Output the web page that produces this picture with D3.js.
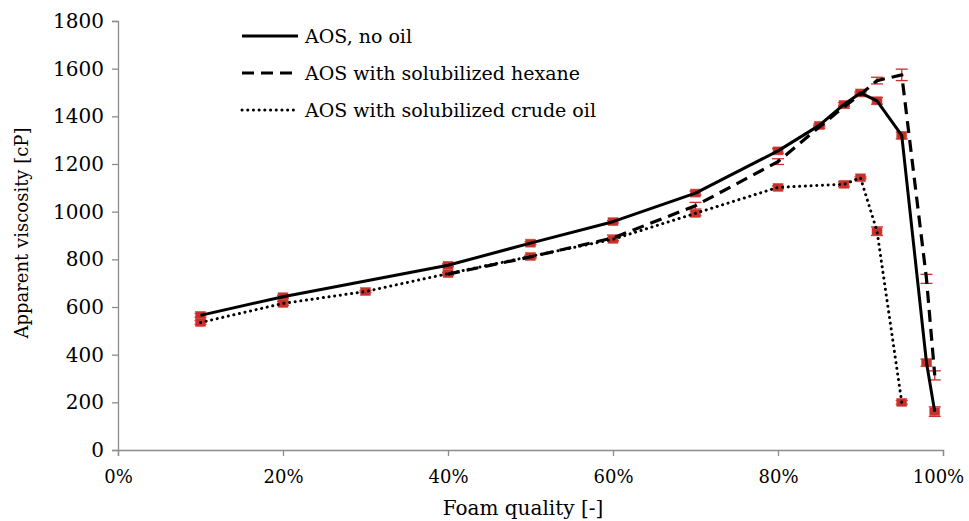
<!DOCTYPE html>
<html>
<head>
<meta charset="utf-8">
<script src="https://cdn.jsdelivr.net/npm/d3@7"></script>
<style>
  html, body { margin: 0; padding: 0; background: #fff; }
</style>
</head>
<body>
<svg id="chart" width="969" height="521"></svg>
<script>
// Foam quality (fraction) and apparent viscosity (cP) per formulation
const noOilQuality = [0.10, 0.20, 0.40, 0.50, 0.60, 0.70, 0.80, 0.85, 0.88, 0.90, 0.92, 0.95, 0.98, 0.99];
const noOilViscosity = [565, 643, 775, 868, 958, 1078, 1255, 1362, 1450, 1498, 1465, 1320, 366, 161];
const noOilError = [8, 6, 6, 6, 5, 8, 10, 6, 8, 6, 14, 14, 15, 20];

const hexaneQuality = [0.40, 0.50, 0.60, 0.70, 0.80, 0.85, 0.88, 0.90, 0.92, 0.95, 0.98, 0.99];
const hexaneViscosity = [738, 810, 890, 1025, 1210, 1355, 1440, 1492, 1550, 1574, 718, 313];
const hexaneError = [5, 5, 12, 14, 12, 6, 6, 6, 14, 24, 19, 19];

const crudeQuality = [0.10, 0.20, 0.30, 0.40, 0.50, 0.60, 0.70, 0.80, 0.88, 0.90, 0.92, 0.95];
const crudeViscosity = [535, 615, 665, 740, 812, 884, 993, 1102, 1115, 1142, 918, 200];
const crudeError = [8, 8, 4, 6, 6, 6, 10, 6, 10, 4, 18, 8];

const seriesNames = ["AOS, no oil", "AOS with solubilized hexane", "AOS with solubilized crude oil"];
const xTickValues = [0, 0.2, 0.4, 0.6, 0.8, 1.0];
const yTickValues = [0, 200, 400, 600, 800, 1000, 1200, 1400, 1600, 1800];

const zip = (q, v, e) => q.map((d, i) => ({ q: d, v: v[i], e: e[i] }));
const series = [
  { name: seriesNames[0], points: zip(noOilQuality, noOilViscosity, noOilError), dash: null, width: 3, cap: "butt", markers: true },
  { name: seriesNames[1], points: zip(hexaneQuality, hexaneViscosity, hexaneError), dash: "12,7", width: 3.2, cap: "butt", markers: false },
  { name: seriesNames[2], points: zip(crudeQuality, crudeViscosity, crudeError), dash: "0.1,5.6", width: 3, cap: "round", markers: true }
];

const serif = "'DejaVu Serif', serif";
const svg = d3.select("#chart");
const axisGrey = "#8c8c8c";
const red = "#c8302a";

const x = d3.scaleLinear().domain([0, 1]).range([118, 943]);
const y = d3.scaleLinear().domain([0, 1800]).range([450, 21]);

// Axes
const xAxis = svg.append("g").attr("transform", `translate(0,${y(0)})`)
  .call(d3.axisBottom(x).tickValues(xTickValues).tickFormat(d3.format(".0%")).tickSizeOuter(0).tickSize(6).tickPadding(14));
const yAxis = svg.append("g").attr("transform", `translate(${x(0)},0)`)
  .call(d3.axisLeft(y).tickValues(yTickValues).tickFormat(d3.format("d")).tickSizeOuter(0).tickSize(6).tickPadding(8));
[xAxis, yAxis].forEach(g => {
  g.attr("font-family", null).attr("font-size", null);
  g.select(".domain").attr("stroke", axisGrey).attr("stroke-width", 1.3);
  g.selectAll(".tick line").attr("stroke", axisGrey).attr("stroke-width", 1.3);
  g.selectAll(".tick text").style("font-family", serif).attr("fill", "#000");
});
yAxis.selectAll(".tick text").style("font-size", "20px");
xAxis.selectAll(".tick text").style("font-size", "18px");
// keep the last percentage label inside the page edge
xAxis.selectAll(".tick text").filter(d => d === 1).attr("dx", -5);

// Axis titles
svg.append("text")
  .attr("x", 523).attr("y", 515)
  .attr("text-anchor", "middle")
  .style("font-family", serif).style("font-size", "20px")
  .text("Foam quality [-]");
svg.append("text")
  .attr("transform", "translate(28,233) rotate(-90)")
  .attr("text-anchor", "middle")
  .style("font-family", serif).style("font-size", "18px")
  .text("Apparent viscosity [cP]");

const plot = svg.append("g");

// Error bars
series.forEach(s => {
  const g = plot.append("g");
  s.points.forEach(p => {
    const cx = x(p.q), y1 = y(p.v + p.e), y2 = y(p.v - p.e);
    g.append("line").attr("x1", cx).attr("x2", cx).attr("y1", y1).attr("y2", y2)
      .attr("stroke", red).attr("stroke-width", 1.3);
    [y1, y2].forEach(yy => g.append("line")
      .attr("x1", cx - 6).attr("x2", cx + 6).attr("y1", yy).attr("y2", yy)
      .attr("stroke", red).attr("stroke-width", 1.3));
  });
});

// Square markers
series.filter(s => s.markers).forEach(s => {
  plot.append("g").selectAll("rect").data(s.points).join("rect")
    .attr("x", d => x(d.q) - 5).attr("y", d => y(d.v) - 4)
    .attr("width", 10).attr("height", 8)
    .attr("fill", red).attr("stroke", "#d9564f").attr("stroke-width", 0.6);
});

// Series lines
const line = d3.line().x(d => x(d.q)).y(d => y(d.v));
series.forEach(s => {
  plot.append("path").datum(s.points)
    .attr("d", line)
    .attr("fill", "none").attr("stroke", "#000")
    .attr("stroke-width", s.width)
    .attr("stroke-linecap", s.cap)
    .attr("stroke-linejoin", "round")
    .attr("stroke-dasharray", s.dash);
});

// Legend
const legend = svg.append("g");
series.forEach((s, i) => {
  const ly = 36 + i * 37;
  legend.append("line")
    .attr("x1", 242).attr("x2", 298).attr("y1", ly).attr("y2", ly)
    .attr("stroke", "#000").attr("stroke-width", s.width)
    .attr("stroke-linecap", s.cap)
    .attr("stroke-dasharray", s.dash);
  legend.append("text")
    .attr("x", 305).attr("y", ly + 7)
    .style("font-family", serif).style("font-size", "19px")
    .text(s.name);
});
</script>
</body>
</html>
